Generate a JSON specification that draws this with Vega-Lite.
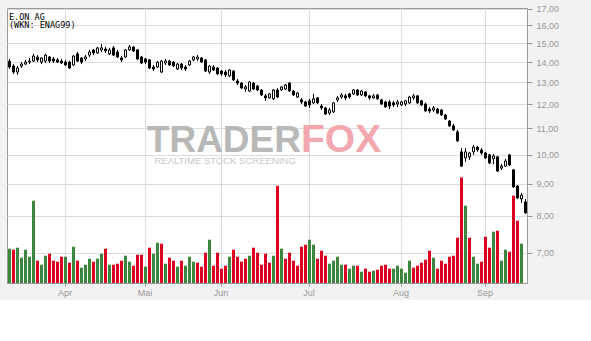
{
"$schema": "https://vega.github.io/schema/vega-lite/v6.json",
"autosize": "none",
"width": 520,
"height": 275,
"padding": {"left": 7, "top": 8, "right": 64, "bottom": 17},
"background": "#f2f2f2",
"title": {"text": ["E.ON AG", "(WKN: ENAG99)"], "anchor": "start", "frame": "group", "baseline": "top", "offset": -25, "dx": 2, "font": "DejaVu Sans Mono", "fontSize": 8.5, "fontWeight": "normal", "lineHeight": 8.5, "color": "#000000"},
"config": {"view": {"stroke": "#9a9a9a", "fill": "#ffffff"}},
"data": {"values": [
{"date":"2015-03-12","open":14.05,"high":14.16,"low":13.65,"close":13.75,"volume":34.3,"trend":"up"},
{"date":"2015-03-13","open":13.80,"high":13.90,"low":13.41,"close":13.50,"volume":33.3,"trend":"down"},
{"date":"2015-03-16","open":13.50,"high":13.80,"low":13.36,"close":13.70,"volume":35.3,"trend":"up"},
{"date":"2015-03-17","open":13.80,"high":14.00,"low":13.70,"close":13.90,"volume":25.3,"trend":"up"},
{"date":"2015-03-18","open":13.90,"high":14.11,"low":13.85,"close":14.00,"volume":33.3,"trend":"up"},
{"date":"2015-03-19","open":14.00,"high":14.21,"low":13.90,"close":14.05,"volume":26.3,"trend":"up"},
{"date":"2015-03-20","open":14.05,"high":14.42,"low":14.00,"close":14.31,"volume":82.3,"trend":"up"},
{"date":"2015-03-23","open":14.26,"high":14.36,"low":14.00,"close":14.11,"volume":22.3,"trend":"down"},
{"date":"2015-03-24","open":14.00,"high":14.26,"low":13.90,"close":14.21,"volume":18.3,"trend":"up"},
{"date":"2015-03-25","open":14.05,"high":14.42,"low":13.95,"close":14.36,"volume":27.3,"trend":"up"},
{"date":"2015-03-26","open":14.26,"high":14.31,"low":13.95,"close":14.05,"volume":29.3,"trend":"down"},
{"date":"2015-03-27","open":14.16,"high":14.26,"low":13.95,"close":14.05,"volume":22.3,"trend":"down"},
{"date":"2015-03-30","open":14.11,"high":14.21,"low":13.95,"close":14.00,"volume":21.3,"trend":"down"},
{"date":"2015-03-31","open":14.05,"high":14.16,"low":13.90,"close":13.95,"volume":26.3,"trend":"down"},
{"date":"2015-04-01","open":14.00,"high":14.11,"low":13.80,"close":13.85,"volume":26.3,"trend":"up"},
{"date":"2015-04-02","open":14.00,"high":14.05,"low":13.65,"close":13.70,"volume":20.3,"trend":"down"},
{"date":"2015-04-07","open":13.85,"high":14.36,"low":13.80,"close":14.31,"volume":36.3,"trend":"up"},
{"date":"2015-04-08","open":14.42,"high":14.52,"low":14.00,"close":14.05,"volume":22.3,"trend":"down"},
{"date":"2015-04-09","open":14.21,"high":14.26,"low":13.90,"close":14.00,"volume":15.3,"trend":"up"},
{"date":"2015-04-10","open":14.16,"high":14.36,"low":14.05,"close":14.26,"volume":18.3,"trend":"up"},
{"date":"2015-04-13","open":14.36,"high":14.63,"low":14.26,"close":14.52,"volume":24.3,"trend":"up"},
{"date":"2015-04-14","open":14.63,"high":14.68,"low":14.36,"close":14.47,"volume":21.3,"trend":"down"},
{"date":"2015-04-15","open":14.47,"high":14.79,"low":14.42,"close":14.74,"volume":24.3,"trend":"up"},
{"date":"2015-04-16","open":14.63,"high":14.95,"low":14.52,"close":14.74,"volume":29.3,"trend":"up"},
{"date":"2015-04-17","open":14.68,"high":14.79,"low":14.47,"close":14.58,"volume":34.3,"trend":"down"},
{"date":"2015-04-20","open":14.42,"high":14.74,"low":14.36,"close":14.63,"volume":18.3,"trend":"up"},
{"date":"2015-04-21","open":14.74,"high":14.84,"low":14.31,"close":14.36,"volume":18.3,"trend":"down"},
{"date":"2015-04-22","open":14.52,"high":14.63,"low":14.21,"close":14.26,"volume":19.3,"trend":"down"},
{"date":"2015-04-23","open":14.21,"high":14.31,"low":14.00,"close":14.11,"volume":22.3,"trend":"down"},
{"date":"2015-04-24","open":14.26,"high":14.68,"low":14.21,"close":14.63,"volume":27.3,"trend":"up"},
{"date":"2015-04-27","open":14.63,"high":14.90,"low":14.58,"close":14.79,"volume":21.3,"trend":"up"},
{"date":"2015-04-28","open":14.79,"high":14.84,"low":14.52,"close":14.58,"volume":17.3,"trend":"down"},
{"date":"2015-04-29","open":14.63,"high":14.68,"low":14.11,"close":14.16,"volume":28.3,"trend":"down"},
{"date":"2015-04-30","open":14.26,"high":14.31,"low":13.90,"close":13.95,"volume":28.3,"trend":"down"},
{"date":"2015-05-04","open":14.16,"high":14.21,"low":13.90,"close":14.00,"volume":16.3,"trend":"up"},
{"date":"2015-05-05","open":14.11,"high":14.16,"low":13.65,"close":13.70,"volume":35.3,"trend":"down"},
{"date":"2015-05-06","open":13.75,"high":13.85,"low":13.55,"close":13.65,"volume":29.3,"trend":"up"},
{"date":"2015-05-07","open":13.75,"high":14.05,"low":13.70,"close":14.00,"volume":40.3,"trend":"up"},
{"date":"2015-05-08","open":13.50,"high":14.11,"low":13.45,"close":14.05,"volume":39.3,"trend":"down"},
{"date":"2015-05-11","open":13.95,"high":14.16,"low":13.85,"close":14.05,"volume":19.3,"trend":"up"},
{"date":"2015-05-12","open":14.05,"high":14.11,"low":13.80,"close":13.85,"volume":25.3,"trend":"down"},
{"date":"2015-05-13","open":14.00,"high":14.05,"low":13.75,"close":13.80,"volume":22.3,"trend":"down"},
{"date":"2015-05-14","open":13.65,"high":13.95,"low":13.60,"close":13.90,"volume":16.3,"trend":"up"},
{"date":"2015-05-15","open":13.90,"high":13.95,"low":13.60,"close":13.70,"volume":22.3,"trend":"down"},
{"date":"2015-05-18","open":13.75,"high":13.85,"low":13.55,"close":13.65,"volume":17.3,"trend":"up"},
{"date":"2015-05-19","open":13.85,"high":14.11,"low":13.80,"close":14.05,"volume":26.3,"trend":"up"},
{"date":"2015-05-20","open":14.11,"high":14.31,"low":14.05,"close":14.26,"volume":21.3,"trend":"up"},
{"date":"2015-05-21","open":14.16,"high":14.36,"low":14.05,"close":14.26,"volume":20.3,"trend":"down"},
{"date":"2015-05-22","open":14.21,"high":14.26,"low":13.95,"close":14.00,"volume":16.3,"trend":"down"},
{"date":"2015-05-26","open":14.11,"high":14.16,"low":13.50,"close":13.55,"volume":30.3,"trend":"down"},
{"date":"2015-05-27","open":13.50,"high":13.85,"low":13.41,"close":13.80,"volume":43.3,"trend":"up"},
{"date":"2015-05-28","open":13.75,"high":13.85,"low":13.55,"close":13.60,"volume":17.3,"trend":"down"},
{"date":"2015-05-29","open":13.70,"high":13.75,"low":13.36,"close":13.41,"volume":30.3,"trend":"down"},
{"date":"2015-06-01","open":13.55,"high":13.60,"low":13.31,"close":13.41,"volume":14.3,"trend":"down"},
{"date":"2015-06-02","open":13.50,"high":13.60,"low":13.26,"close":13.36,"volume":17.3,"trend":"down"},
{"date":"2015-06-03","open":13.31,"high":13.65,"low":13.26,"close":13.60,"volume":26.3,"trend":"up"},
{"date":"2015-06-04","open":13.55,"high":13.60,"low":13.07,"close":13.12,"volume":33.3,"trend":"down"},
{"date":"2015-06-05","open":13.07,"high":13.16,"low":12.88,"close":12.97,"volume":26.3,"trend":"down"},
{"date":"2015-06-08","open":12.97,"high":13.02,"low":12.69,"close":12.74,"volume":21.3,"trend":"down"},
{"date":"2015-06-09","open":12.69,"high":12.88,"low":12.56,"close":12.79,"volume":24.3,"trend":"down"},
{"date":"2015-06-10","open":12.60,"high":13.07,"low":12.56,"close":13.02,"volume":27.3,"trend":"up"},
{"date":"2015-06-11","open":12.97,"high":13.02,"low":12.65,"close":12.69,"volume":35.3,"trend":"down"},
{"date":"2015-06-12","open":12.83,"high":12.88,"low":12.60,"close":12.65,"volume":30.3,"trend":"down"},
{"date":"2015-06-15","open":12.65,"high":12.69,"low":12.38,"close":12.42,"volume":18.3,"trend":"down"},
{"date":"2015-06-16","open":12.38,"high":12.47,"low":12.16,"close":12.29,"volume":29.3,"trend":"down"},
{"date":"2015-06-17","open":12.29,"high":12.51,"low":12.25,"close":12.47,"volume":20.3,"trend":"down"},
{"date":"2015-06-18","open":12.25,"high":12.69,"low":12.20,"close":12.65,"volume":27.3,"trend":"up"},
{"date":"2015-06-19","open":12.65,"high":12.74,"low":12.29,"close":12.33,"volume":97.3,"trend":"down"},
{"date":"2015-06-22","open":12.65,"high":12.83,"low":12.60,"close":12.79,"volume":34.3,"trend":"up"},
{"date":"2015-06-23","open":12.69,"high":12.93,"low":12.65,"close":12.88,"volume":24.3,"trend":"down"},
{"date":"2015-06-24","open":12.97,"high":13.02,"low":12.56,"close":12.60,"volume":30.3,"trend":"down"},
{"date":"2015-06-25","open":12.60,"high":12.65,"low":12.38,"close":12.42,"volume":22.3,"trend":"down"},
{"date":"2015-06-26","open":12.33,"high":12.56,"low":12.29,"close":12.51,"volume":17.3,"trend":"down"},
{"date":"2015-06-29","open":12.20,"high":12.29,"low":12.02,"close":12.11,"volume":36.3,"trend":"down"},
{"date":"2015-06-30","open":12.11,"high":12.16,"low":11.89,"close":11.93,"volume":38.3,"trend":"down"},
{"date":"2015-07-01","open":12.16,"high":12.25,"low":11.85,"close":11.98,"volume":43.3,"trend":"up"},
{"date":"2015-07-02","open":12.07,"high":12.47,"low":12.02,"close":12.25,"volume":38.3,"trend":"up"},
{"date":"2015-07-03","open":12.29,"high":12.33,"low":12.02,"close":12.07,"volume":24.3,"trend":"down"},
{"date":"2015-07-06","open":11.93,"high":12.02,"low":11.76,"close":11.85,"volume":32.3,"trend":"down"},
{"date":"2015-07-07","open":11.85,"high":11.89,"low":11.55,"close":11.59,"volume":27.3,"trend":"down"},
{"date":"2015-07-08","open":11.63,"high":11.85,"low":11.55,"close":11.76,"volume":19.3,"trend":"up"},
{"date":"2015-07-09","open":11.68,"high":12.11,"low":11.63,"close":12.07,"volume":22.3,"trend":"up"},
{"date":"2015-07-10","open":12.20,"high":12.38,"low":12.11,"close":12.29,"volume":26.3,"trend":"up"},
{"date":"2015-07-13","open":12.33,"high":12.51,"low":12.25,"close":12.42,"volume":18.3,"trend":"up"},
{"date":"2015-07-14","open":12.38,"high":12.47,"low":12.20,"close":12.29,"volume":18.3,"trend":"down"},
{"date":"2015-07-15","open":12.47,"high":12.51,"low":12.25,"close":12.33,"volume":14.3,"trend":"up"},
{"date":"2015-07-16","open":12.47,"high":12.69,"low":12.42,"close":12.65,"volume":17.3,"trend":"up"},
{"date":"2015-07-17","open":12.65,"high":12.69,"low":12.38,"close":12.42,"volume":17.3,"trend":"down"},
{"date":"2015-07-20","open":12.42,"high":12.65,"low":12.38,"close":12.60,"volume":11.3,"trend":"up"},
{"date":"2015-07-21","open":12.56,"high":12.60,"low":12.33,"close":12.38,"volume":14.3,"trend":"down"},
{"date":"2015-07-22","open":12.38,"high":12.42,"low":12.20,"close":12.29,"volume":11.3,"trend":"down"},
{"date":"2015-07-23","open":12.29,"high":12.47,"low":12.25,"close":12.38,"volume":12.3,"trend":"up"},
{"date":"2015-07-24","open":12.42,"high":12.47,"low":12.20,"close":12.25,"volume":13.3,"trend":"down"},
{"date":"2015-07-27","open":12.20,"high":12.25,"low":11.98,"close":12.02,"volume":17.3,"trend":"down"},
{"date":"2015-07-28","open":12.11,"high":12.16,"low":11.85,"close":11.89,"volume":18.3,"trend":"down"},
{"date":"2015-07-29","open":12.11,"high":12.20,"low":11.80,"close":11.93,"volume":14.3,"trend":"down"},
{"date":"2015-07-30","open":12.07,"high":12.16,"low":11.89,"close":11.98,"volume":14.3,"trend":"up"},
{"date":"2015-07-31","open":12.02,"high":12.20,"low":11.89,"close":12.11,"volume":17.3,"trend":"up"},
{"date":"2015-08-03","open":11.98,"high":12.16,"low":11.93,"close":12.11,"volume":14.3,"trend":"up"},
{"date":"2015-08-04","open":12.02,"high":12.20,"low":11.93,"close":12.16,"volume":10.3,"trend":"up"},
{"date":"2015-08-05","open":12.07,"high":12.38,"low":12.02,"close":12.33,"volume":22.3,"trend":"up"},
{"date":"2015-08-06","open":12.29,"high":12.47,"low":12.20,"close":12.38,"volume":15.3,"trend":"down"},
{"date":"2015-08-07","open":12.38,"high":12.42,"low":12.02,"close":12.07,"volume":17.3,"trend":"down"},
{"date":"2015-08-10","open":12.16,"high":12.20,"low":11.93,"close":11.98,"volume":20.3,"trend":"down"},
{"date":"2015-08-11","open":12.02,"high":12.07,"low":11.68,"close":11.72,"volume":23.3,"trend":"down"},
{"date":"2015-08-12","open":11.80,"high":11.89,"low":11.63,"close":11.72,"volume":32.3,"trend":"down"},
{"date":"2015-08-13","open":11.76,"high":11.93,"low":11.68,"close":11.85,"volume":25.3,"trend":"up"},
{"date":"2015-08-14","open":11.80,"high":11.85,"low":11.59,"close":11.63,"volume":14.3,"trend":"down"},
{"date":"2015-08-17","open":11.76,"high":11.80,"low":11.51,"close":11.55,"volume":22.3,"trend":"down"},
{"date":"2015-08-18","open":11.55,"high":11.59,"low":11.34,"close":11.38,"volume":19.3,"trend":"down"},
{"date":"2015-08-19","open":11.30,"high":11.34,"low":11.06,"close":11.10,"volume":26.3,"trend":"down"},
{"date":"2015-08-20","open":11.10,"high":11.18,"low":10.90,"close":10.94,"volume":27.3,"trend":"down"},
{"date":"2015-08-21","open":10.86,"high":10.94,"low":10.47,"close":10.51,"volume":45.3,"trend":"down"},
{"date":"2015-08-24","open":10.10,"high":10.24,"low":9.56,"close":9.59,"volume":105.6,"trend":"down"},
{"date":"2015-08-25","open":9.88,"high":10.24,"low":9.74,"close":10.10,"volume":77.3,"trend":"up"},
{"date":"2015-08-26","open":9.92,"high":10.10,"low":9.81,"close":10.06,"volume":45.3,"trend":"down"},
{"date":"2015-08-27","open":10.10,"high":10.36,"low":9.99,"close":10.28,"volume":26.3,"trend":"up"},
{"date":"2015-08-28","open":10.28,"high":10.32,"low":10.10,"close":10.17,"volume":19.3,"trend":"up"},
{"date":"2015-08-31","open":10.17,"high":10.24,"low":9.99,"close":10.06,"volume":21.3,"trend":"down"},
{"date":"2015-09-01","open":10.06,"high":10.10,"low":9.85,"close":9.88,"volume":46.3,"trend":"down"},
{"date":"2015-09-02","open":9.99,"high":10.02,"low":9.66,"close":9.70,"volume":35.3,"trend":"down"},
{"date":"2015-09-03","open":9.85,"high":10.02,"low":9.66,"close":9.95,"volume":51.3,"trend":"up"},
{"date":"2015-09-04","open":9.92,"high":9.95,"low":9.39,"close":9.42,"volume":52.3,"trend":"down"},
{"date":"2015-09-07","open":9.52,"high":9.66,"low":9.46,"close":9.59,"volume":22.3,"trend":"up"},
{"date":"2015-09-08","open":9.59,"high":9.85,"low":9.56,"close":9.77,"volume":33.3,"trend":"up"},
{"date":"2015-09-09","open":9.99,"high":10.02,"low":9.59,"close":9.63,"volume":31.3,"trend":"down"},
{"date":"2015-09-10","open":9.46,"high":9.49,"low":8.86,"close":8.89,"volume":87.3,"trend":"down"},
{"date":"2015-09-11","open":8.92,"high":8.95,"low":8.51,"close":8.54,"volume":62.3,"trend":"down"},
{"date":"2015-09-14","open":8.51,"high":8.70,"low":8.39,"close":8.63,"volume":39.3,"trend":"up"},
{"date":"2015-09-15","open":8.42,"high":8.51,"low":8.06,"close":8.09,"volume":null,"trend":"down"}
]},
"encoding": {
  "x": {"field": "date", "type": "ordinal", "scale": {"paddingInner": 0, "paddingOuter": 0},
    "axis": {"title": null, "values": ["2015-04-01","2015-05-04","2015-06-01","2015-07-01","2015-08-03","2015-09-01"],
      "labelExpr": "['Jan','Feb','Mär','Apr','Mai','Jun','Jul','Aug','Sep','Okt','Nov','Dez'][toNumber(substring(datum.value,5,7))-1]",
      "labelAngle": 0, "bandPosition": 0.5, "grid": true, "gridColor": "#dcdcdc", "gridWidth": 1,
      "domainColor": "#9a9a9a", "tickColor": "#9a9a9a", "tickSize": 3, "labelPadding": 2,
      "labelFont": "Liberation Sans", "labelFontSize": 9, "labelColor": "#999999"}}
},
"layer": [
  {"mark": {"type": "bar", "xOffset": 0.5, "width": {"band": 0.75}},
   "encoding": {
     "y": {"field": "volume", "type": "quantitative", "scale": {"domain": [0, 275], "nice": false}, "axis": null},
     "color": {"field": "trend", "type": "nominal", "scale": {"domain": ["up", "down"], "range": ["#3b853f", "#dc0020"]}, "legend": null}
   }},
  {"layer": [
    {"data": {"values": [{"label": "TRADER"}]},
     "mark": {"type": "text", "align": "right", "baseline": "alphabetic", "font": "Liberation Sans", "fontWeight": "bold", "fontSize": 37, "color": "#b8b8b8"},
     "encoding": {"x": {"datum": "2015-06-29", "type": "ordinal"}, "y": {"datum": 10.1, "type": "quantitative", "scale": {"type": "log", "domain": [6.27, 17.04], "nice": false, "zero": false}}, "text": {"field": "label"}}},
    {"data": {"values": [{"label": "FOX"}]},
     "mark": {"type": "text", "align": "left", "baseline": "alphabetic", "font": "Liberation Sans", "fontWeight": "bold", "fontSize": 39, "color": "#f3a7af"},
     "encoding": {"x": {"datum": "2015-06-29", "type": "ordinal"}, "y": {"datum": 10.1, "type": "quantitative", "scale": {"type": "log", "domain": [6.27, 17.04], "nice": false, "zero": false}}, "text": {"field": "label"}}},
    {"data": {"values": [{"label": "REALTIME STOCK SCREENING"}]},
     "mark": {"type": "text", "align": "center", "baseline": "alphabetic", "font": "Liberation Sans", "fontSize": 9.5, "color": "#c8c8c8"},
     "encoding": {"x": {"datum": "2015-06-02", "type": "ordinal"}, "y": {"datum": 9.66, "type": "quantitative", "scale": {"type": "log", "domain": [6.27, 17.04], "nice": false, "zero": false}}, "text": {"field": "label"}}},
    {"mark": {"type": "rule", "xOffset": 0.5, "color": "#000000", "strokeWidth": 1},
     "encoding": {
       "y": {"field": "low", "type": "quantitative", "scale": {"type": "log", "domain": [6.27, 17.04], "nice": false, "zero": false},
         "axis": {"title": null, "orient": "right", "values": [7,8,9,10,11,12,13,14,15,16,17],
           "labelExpr": "replace(format(datum.value, '.2f'), '.', ',')",
           "grid": true, "gridColor": "#dcdcdc", "gridWidth": 1, "domainColor": "#9a9a9a", "tickColor": "#9a9a9a", "tickSize": 5,
           "labelPadding": 4, "labelFont": "Liberation Sans", "labelFontSize": 9, "labelColor": "#999999"}},
       "y2": {"field": "high"}
     }},
    {"mark": {"type": "bar", "xOffset": 0.5, "width": {"band": 0.5}, "stroke": "#000000", "strokeWidth": 1},
     "encoding": {
       "y": {"field": "open", "type": "quantitative", "scale": {"type": "log", "domain": [6.27, 17.04], "nice": false, "zero": false}},
       "y2": {"field": "close"},
       "fill": {"condition": {"test": "datum.close >= datum.open", "value": "#ffffff"}, "value": "#000000"}
     }}
  ]}
],
"resolve": {"scale": {"y": "independent"}}
}
